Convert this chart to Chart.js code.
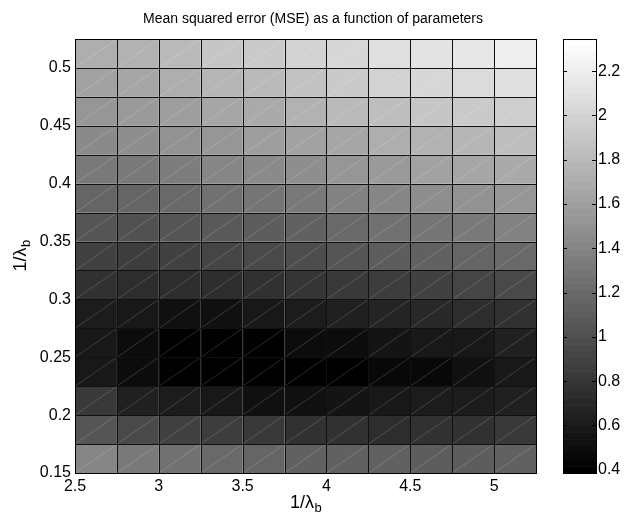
<!DOCTYPE html>
<html>
<head>
<meta charset="utf-8">
<title>Mean squared error (MSE) as a function of parameters</title>
<script src="https://cdn.jsdelivr.net/npm/chart.js@4.4.1/dist/chart.umd.min.js"></script>
<style>
  html, body { margin: 0; padding: 0; background: #fff; }
  #wrap { width: 626px; height: 514px; }
</style>
</head>
<body>
<div id="wrap"><canvas id="mseChart" width="626" height="514"></canvas></div>
<script>
// cell edges along both parameters
const xEdges = [2.5, 2.75, 3, 3.25, 3.5, 3.75, 4, 4.25, 4.5, 4.75, 5, 5.25];
const yEdges = [0.15, 0.175, 0.2, 0.225, 0.25, 0.275, 0.3, 0.325, 0.35, 0.375, 0.4, 0.425, 0.45, 0.475, 0.5, 0.525];

// MSE for each cell, one row per y band, bottom row (0.15) first
const mse = [
  [1.41, 1.31, 1.25, 1.20, 1.17, 1.15, 1.12, 1.14, 1.11, 1.11, 1.12],
  [1.04, 0.95, 0.88, 0.85, 0.82, 0.78, 0.77, 0.75, 0.77, 0.78, 0.82],
  [0.82, 0.66, 0.62, 0.57, 0.52, 0.51, 0.54, 0.57, 0.60, 0.62, 0.65],
  [0.585, 0.485, 0.385, 0.386, 0.393, 0.408, 0.408, 0.470, 0.462, 0.523, 0.585],
  [0.570, 0.485, 0.393, 0.387, 0.400, 0.493, 0.485, 0.539, 0.577, 0.593, 0.631],
  [0.616, 0.585, 0.523, 0.523, 0.570, 0.600, 0.631, 0.677, 0.708, 0.739, 0.754],
  [0.754, 0.739, 0.723, 0.739, 0.754, 0.792, 0.831, 0.862, 0.892, 0.923, 0.954],
  [0.892, 0.862, 0.877, 0.908, 0.938, 0.985, 1.046, 1.092, 1.123, 1.154, 1.192],
  [1.031, 1.015, 1.031, 1.077, 1.108, 1.138, 1.200, 1.246, 1.292, 1.323, 1.369],
  [1.154, 1.169, 1.200, 1.246, 1.292, 1.323, 1.369, 1.415, 1.461, 1.492, 1.538],
  [1.307, 1.323, 1.354, 1.400, 1.438, 1.477, 1.523, 1.569, 1.615, 1.646, 1.692],
  [1.446, 1.461, 1.492, 1.538, 1.584, 1.615, 1.661, 1.707, 1.753, 1.784, 1.830],
  [1.538, 1.569, 1.599, 1.646, 1.692, 1.738, 1.799, 1.845, 1.892, 1.922, 1.968],
  [1.630, 1.661, 1.707, 1.769, 1.807, 1.861, 1.938, 1.984, 2.030, 2.061, 2.099],
  [1.707, 1.738, 1.799, 1.892, 1.922, 1.984, 2.030, 2.076, 2.122, 2.153, 2.199]
];

const xTicks = [2.5, 3, 3.5, 4, 4.5, 5];
const yTicks = [0.15, 0.2, 0.25, 0.3, 0.35, 0.4, 0.45, 0.5];
const cbTicks = [0.4, 0.6, 0.8, 1, 1.2, 1.4, 1.6, 1.8, 2, 2.2];

// colour limits of the gray colormap
const cMin = 0.385;
const cMax = 2.345;
const nLevels = 64;

const fontFamily = "'Liberation Sans', Arial, sans-serif";

function levelGray(idx) {
  const g = Math.round(idx / (nLevels - 1) * 255);
  return 'rgb(' + g + ',' + g + ',' + g + ')';
}

function grayFor(v) {
  let idx = Math.floor((v - cMin) / (cMax - cMin) * nLevels);
  idx = Math.max(0, Math.min(nLevels - 1, idx));
  return levelGray(idx);
}

// draws "1/λ" with a subscript b, centred on (cx, baseline)
function drawLambdaLabel(ctx, cx, baseline) {
  const main = '1/\u03bb', sub = 'b';
  ctx.font = '18px ' + fontFamily;
  const wMain = ctx.measureText(main).width;
  ctx.font = '13px ' + fontFamily;
  const wSub = ctx.measureText(sub).width;
  const start = cx - (wMain + wSub) / 2;
  ctx.textAlign = 'left';
  ctx.textBaseline = 'alphabetic';
  ctx.font = '18px ' + fontFamily;
  ctx.fillText(main, start, baseline);
  ctx.font = '13px ' + fontFamily;
  ctx.fillText(sub, start + wMain + 0.5, baseline + 4);
}

const heatCells = {
  id: 'heatCells',
  beforeDatasetsDraw(chart) {
    const { ctx, chartArea, scales: { x, y, cb } } = chart;
    ctx.save();

    // cells
    mse.forEach((row, i) => {
      row.forEach((v, j) => {
        const x0 = x.getPixelForValue(xEdges[j]);
        const x1 = x.getPixelForValue(xEdges[j + 1]);
        const y0 = y.getPixelForValue(yEdges[i]);
        const y1 = y.getPixelForValue(yEdges[i + 1]);
        ctx.fillStyle = grayFor(v);
        ctx.fillRect(x0, y1, x1 - x0, y0 - y1);
        // faint diagonal seam inside each cell
        ctx.strokeStyle = 'rgba(255,255,255,0.28)';
        ctx.lineWidth = 0.6;
        ctx.beginPath();
        ctx.moveTo(x0, y0);
        ctx.lineTo(x1, y1);
        ctx.stroke();
      });
    });

    // cell edges
    ctx.strokeStyle = '#111';
    ctx.lineWidth = 1;
    ctx.beginPath();
    xEdges.forEach(e => {
      const px = Math.round(x.getPixelForValue(e)) + 0.5;
      ctx.moveTo(px, chartArea.top);
      ctx.lineTo(px, chartArea.bottom);
    });
    yEdges.forEach(e => {
      const py = Math.round(y.getPixelForValue(e)) + 0.5;
      ctx.moveTo(chartArea.left, py);
      ctx.lineTo(chartArea.right, py);
    });
    ctx.stroke();

    // colorbar
    const cbLeft = cb.left + 27, cbW = 33;
    for (let k = 0; k < nLevels; k++) {
      const v0 = cMin + (cMax - cMin) * k / nLevels;
      const v1 = cMin + (cMax - cMin) * (k + 1) / nLevels;
      const ya = cb.getPixelForValue(v0);
      const yb = cb.getPixelForValue(v1);
      ctx.fillStyle = levelGray(k);
      ctx.fillRect(cbLeft, yb, cbW, ya - yb + 0.6);
    }
    ctx.strokeStyle = '#000';
    ctx.lineWidth = 1;
    ctx.strokeRect(Math.round(cbLeft) + 0.5, Math.round(cb.top) + 0.5, cbW, Math.round(cb.bottom - cb.top));
    ctx.beginPath();
    cbTicks.forEach(t => {
      const py = Math.round(cb.getPixelForValue(t)) + 0.5;
      ctx.moveTo(cbLeft, py);
      ctx.lineTo(cbLeft + 4, py);
      ctx.moveTo(cbLeft + cbW, py);
      ctx.lineTo(cbLeft + cbW - 4, py);
    });
    ctx.stroke();
    ctx.restore();
  },
  afterDraw(chart) {
    const { ctx, chartArea } = chart;
    ctx.save();
    ctx.strokeStyle = '#000';
    ctx.lineWidth = 1;
    ctx.strokeRect(Math.round(chartArea.left) + 0.5, Math.round(chartArea.top) + 0.5,
      Math.round(chartArea.right - chartArea.left), Math.round(chartArea.bottom - chartArea.top));

    ctx.fillStyle = '#000';
    // x axis title
    drawLambdaLabel(ctx, (chartArea.left + chartArea.right) / 2, 508);
    // y axis title, rotated
    ctx.translate(26, (chartArea.top + chartArea.bottom) / 2);
    ctx.rotate(-Math.PI / 2);
    drawLambdaLabel(ctx, 0, 0);
    ctx.restore();
  }
};

const fmt = v => String(v);

new Chart(document.getElementById('mseChart'), {
  type: 'scatter',
  data: { datasets: [{ data: [] }] },
  options: {
    responsive: false,
    animation: false,
    layout: { padding: 0 },
    plugins: {
      legend: { display: false },
      tooltip: { enabled: false },
      title: {
        display: true,
        text: 'Mean squared error (MSE) as a function of parameters',
        color: '#000',
        font: { family: fontFamily, size: 14, weight: 'normal' },
        padding: { top: 11, bottom: 11.2 }
      }
    },
    scales: {
      x: {
        type: 'linear',
        min: 2.5,
        max: 5.25,
        grid: { display: false, drawTicks: false },
        border: { display: false },
        afterBuildTicks: s => { s.ticks = xTicks.map(v => ({ value: v })); },
        afterFit: s => { s.height = 41; },
        ticks: { color: '#000', font: { family: fontFamily, size: 16 }, padding: 4, maxRotation: 0, callback: fmt }
      },
      y: {
        type: 'linear',
        min: 0.15,
        max: 0.525,
        grid: { display: false, drawTicks: false },
        border: { display: false },
        afterBuildTicks: s => { s.ticks = yTicks.map(v => ({ value: v })); },
        afterFit: s => { s.width = 75; },
        ticks: { color: '#000', font: { family: fontFamily, size: 16 }, padding: 4, callback: fmt }
      },
      cb: {
        axis: 'y',
        type: 'linear',
        position: 'right',
        min: cMin,
        max: cMax,
        // invisible tick marks push the labels past the colorbar
        grid: { display: true, drawOnChartArea: false, drawTicks: true, tickLength: 58, color: 'rgba(0,0,0,0)' },
        border: { display: false },
        afterBuildTicks: s => { s.ticks = cbTicks.map(v => ({ value: v })); },
        afterFit: s => { s.width = 90; },
        ticks: { color: '#000', font: { family: fontFamily, size: 16 }, padding: 4, callback: fmt }
      }
    }
  },
  plugins: [heatCells]
});
</script>
</body>
</html>
